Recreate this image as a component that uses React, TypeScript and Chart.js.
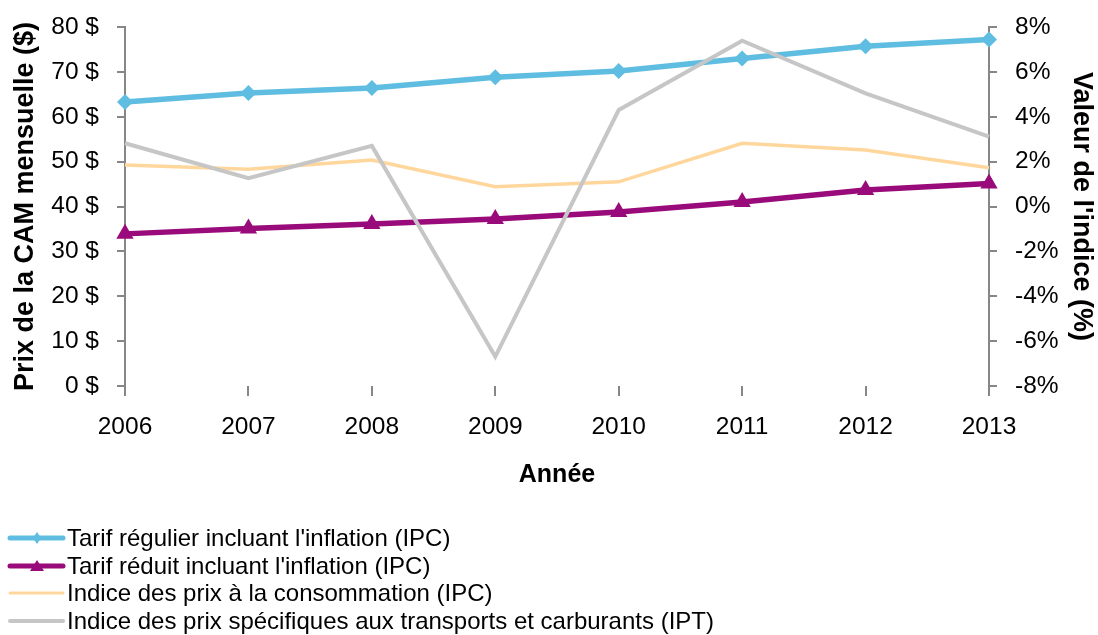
import React, { useEffect, useRef } from "react";
import { Chart, registerables } from "chart.js";

Chart.register(...registerables);

const years = ["2006", "2007", "2008", "2009", "2010", "2011", "2012", "2013"];
const tarifRegulier = [63.3, 65.3, 66.4, 68.8, 70.2, 73.0, 75.7, 77.2];
const tarifReduit = [33.9, 35.1, 36.1, 37.2, 38.8, 41.0, 43.7, 45.1];
const ipc = [1.85, 1.66, 2.07, 0.88, 1.1, 2.82, 2.52, 1.73];
const ipt = [2.82, 1.26, 2.7, -6.69, 4.3, 7.39, 5.04, 3.11];

const legendLabels = [
  "Tarif régulier incluant l'inflation (IPC)",
  "Tarif réduit incluant l'inflation (IPC)",
  "Indice des prix à la consommation (IPC)",
  "Indice des prix spécifiques aux transports et carburants (IPT)",
];

const BLUE = "#5EBDE0";
const PURPLE = "#990A7A";
const ORANGE = "#FFD79C";
const GRAY = "#C6C6C6";
const AXIS = "#878787";
const FONT = "'Liberation Sans', Arial, sans-serif";

function LegendSample({ idx }: { idx: number }) {
  const colors = [BLUE, PURPLE, ORANGE, GRAY];
  const widths = [5, 5, 3, 4];
  return (
    <svg width={66} height={28} style={{ position: "absolute", left: 0, top: 0 }}>
      <line x1={10} y1={14} x2={63} y2={14} stroke={colors[idx]} strokeWidth={widths[idx]} strokeLinecap="round" />
      {idx === 0 && <polygon points="37,8 41,14 37,20 33,14" fill={BLUE} />}
      {idx === 1 && <polygon points="37,8 44,19 30,19" fill={PURPLE} />}
    </svg>
  );
}

export default function App() {
  const ref = useRef<HTMLCanvasElement | null>(null);
  useEffect(() => {
    document.body.style.margin = "0";
    const ctx = ref.current!;
    const chart = new Chart(ctx, {
      type: "line",
      data: {
        labels: years,
        datasets: [
          {
            label: legendLabels[0],
            data: tarifRegulier,
            yAxisID: "y",
            borderColor: BLUE,
            backgroundColor: BLUE,
            borderWidth: 5.5,
            pointStyle: "rectRot",
            pointRadius: 8,
            pointBorderWidth: 0,
            tension: 0,
            order: 3,
          },
          {
            label: legendLabels[1],
            data: tarifReduit,
            yAxisID: "y",
            borderColor: PURPLE,
            backgroundColor: PURPLE,
            borderWidth: 5.5,
            pointStyle: "triangle",
            pointRadius: 10,
            pointBorderWidth: 0,
            tension: 0,
            order: 2,
          },
          {
            label: legendLabels[2],
            data: ipc,
            yAxisID: "y1",
            borderColor: ORANGE,
            backgroundColor: ORANGE,
            borderWidth: 3.5,
            pointRadius: 0,
            tension: 0,
            order: 1,
          },
          {
            label: legendLabels[3],
            data: ipt,
            yAxisID: "y1",
            borderColor: GRAY,
            backgroundColor: GRAY,
            borderWidth: 4,
            pointRadius: 0,
            tension: 0,
            order: 0,
          },
        ],
      },
      options: {
        animation: false,
        responsive: false,
        layout: { padding: { left: 0, right: 0, top: 27, bottom: 145 } },
        plugins: { legend: { display: false }, tooltip: { enabled: false } },
        scales: {
          x: {
            type: "category",
            offset: false,
            grid: { display: true, drawOnChartArea: false, drawTicks: true, tickLength: 10, color: AXIS, lineWidth: 2 },
            border: { display: false },
            ticks: { font: { family: FONT, size: 24.5 }, color: "#000", padding: 17, maxRotation: 0, autoSkip: false },
            title: { display: true, text: "Année", color: "#000", font: { family: FONT, size: 25, weight: "bold" }, padding: { top: 0, bottom: 0 } },
            afterFit: (s: any) => { s.height = 104; },
          },
          y: {
            position: "left",
            min: 0,
            max: 80,
            grid: { display: true, drawOnChartArea: false, drawTicks: true, tickLength: 8, color: AXIS, lineWidth: 2 },
            border: { display: true, color: AXIS, width: 2 },
            ticks: { stepSize: 10, font: { family: FONT, size: 24.5, lineHeight: 0.5 }, color: "#000", padding: 18, callback: (v: any) => `${v} $` },
            title: { display: true, text: "Prix de la CAM mensuelle ($)", color: "#000", font: { family: FONT, size: 27, weight: "bold" }, padding: { top: 9, bottom: 0 } },
            afterFit: (s: any) => { s.width = 125; },
          },
          y1: {
            position: "right",
            min: -8,
            max: 8,
            grid: { display: true, drawOnChartArea: false, drawTicks: true, tickLength: 8, color: AXIS, lineWidth: 2 },
            border: { display: true, color: AXIS, width: 2 },
            ticks: { stepSize: 2, font: { family: FONT, size: 24.5, lineHeight: 0.5 }, color: "#000", padding: 18, callback: (v: any) => `${v}%` },
            title: { display: true, text: "Valeur de l'indice (%)", color: "#000", font: { family: FONT, size: 27, weight: "bold" }, padding: { top: 0, bottom: 0 } },
            afterFit: (s: any) => { s.width = 109; },
          },
        },
      },
    } as any);
    return () => chart.destroy();
  }, []);

  return (
    <div style={{ position: "absolute", left: 0, top: 0, width: 1098, height: 635, background: "#fff" }}>
      <canvas ref={ref} width={1098} height={635} style={{ width: 1098, height: 635, display: "block" }} />
      {legendLabels.map((t, i) => (
        <div
          key={i}
          style={{ position: "absolute", left: 0, top: 537.7 + i * 27.8 - 14, height: 28, width: 800 }}
        >
          <LegendSample idx={i} />
          <span
            style={{
              position: "absolute",
              left: 67,
              top: 0,
              lineHeight: "28px",
              fontFamily: FONT,
              fontSize: 24,
              color: "#000",
              whiteSpace: "nowrap",
            }}
          >
            {t}
          </span>
        </div>
      ))}
    </div>
  );
}
